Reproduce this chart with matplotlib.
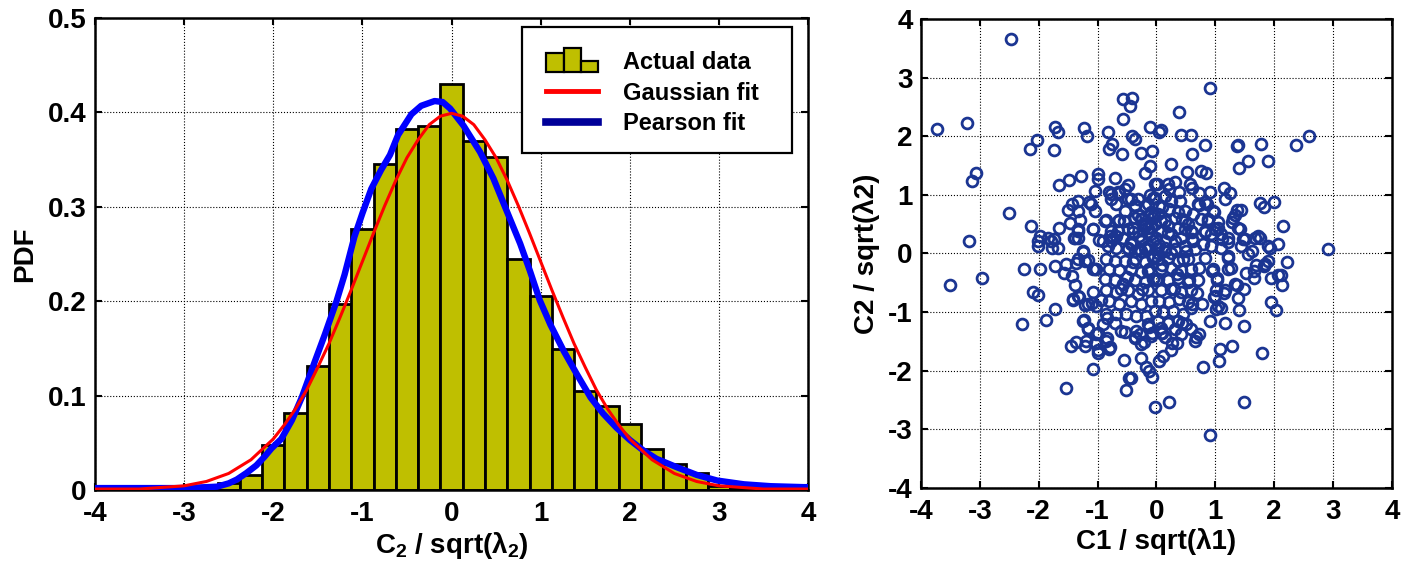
import matplotlib
matplotlib.use('Agg')
import matplotlib.pyplot as plt
from matplotlib.patches import Rectangle
from matplotlib.legend_handler import HandlerBase
from matplotlib.lines import Line2D

# ---------------- data ----------------
bin_centers = [-3.0, -2.75, -2.5, -2.25, -2.0, -1.75, -1.5, -1.25, -1.0, -0.75, -0.5, -0.25,
               0.0, 0.25, 0.5, 0.75, 1.0, 1.25, 1.5, 1.75, 2.0, 2.25, 2.5, 2.75, 3.0, 3.25, 3.5, 3.75]
bin_heights = [0.004, 0.004, 0.007, 0.016, 0.048, 0.082, 0.131, 0.197, 0.276, 0.345, 0.382, 0.386,
               0.430, 0.370, 0.353, 0.245, 0.205, 0.149, 0.105, 0.089, 0.070, 0.043, 0.028, 0.018,
               0.004, 0.002, 0.001, 0.001]

gauss_x = [-4.0, -3.5, -3.0, -2.75, -2.5, -2.25, -2.0, -1.875, -1.75, -1.625, -1.5, -1.375, -1.25,
           -1.125, -1.0, -0.875, -0.75, -0.625, -0.5, -0.375, -0.25, -0.125, 0.0, 0.125, 0.25,
           0.375, 0.5, 0.625, 0.75, 0.875, 1.0, 1.125, 1.25, 1.375, 1.5, 1.625, 1.75, 1.875,
           2.0, 2.25, 2.5, 2.75, 3.0, 3.5, 4.0]
gauss_y = [0.001, 0.001, 0.0044, 0.009, 0.0175, 0.032, 0.054, 0.069, 0.086, 0.106, 0.130, 0.155,
           0.183, 0.212, 0.242, 0.272, 0.301, 0.328, 0.352, 0.371, 0.387, 0.396, 0.399, 0.396,
           0.387, 0.371, 0.352, 0.328, 0.301, 0.272, 0.242, 0.212, 0.183, 0.155, 0.130, 0.106,
           0.086, 0.069, 0.054, 0.032, 0.0175, 0.009, 0.0044, 0.001, 0.001]

pearson_x = [-4.0, -3.5, -3.0, -2.75, -2.63, -2.5, -2.41, -2.3, -2.19, -2.1, -2.02, -1.91, -1.79,
             -1.68, -1.53, -1.42, -1.29, -1.2, -1.09, -1.0, -0.9, -0.79, -0.69, -0.6, -0.45, -0.34,
             -0.19, -0.1, -0.015, 0.134, 0.32, 0.47, 0.6, 0.77, 0.88, 0.99, 1.11, 1.26, 1.41, 1.56,
             1.7, 1.85, 2.0, 2.15, 2.3, 2.53, 2.75, 2.98, 3.28, 3.58, 3.95, 4.0]
pearson_y = [0.002, 0.002, 0.002, 0.003, 0.0035, 0.007, 0.011, 0.018, 0.026, 0.035, 0.044, 0.054,
             0.074, 0.098, 0.137, 0.165, 0.2, 0.228, 0.268, 0.293, 0.319, 0.339, 0.355, 0.376,
             0.398, 0.407, 0.412, 0.411, 0.404, 0.386, 0.358, 0.33, 0.3, 0.261, 0.232, 0.201,
             0.175, 0.147, 0.122, 0.098, 0.081, 0.066, 0.053, 0.042, 0.033, 0.024, 0.016, 0.01,
             0.006, 0.004, 0.003, 0.003]

legend_labels = ['Actual data', 'Gaussian fit', 'Pearson fit']

scatter_pts = [
    # upper-left region
    (-2.47, 3.66), (-3.72, 2.13), (-3.22, 2.23), (-3.06, 1.38), (-3.14, 1.23), (-2.51, 0.69),
    (-3.19, 0.22), (-2.13, 0.47), (-1.73, 2.16), (-1.67, 2.07), (-2.03, 1.93), (-2.15, 1.79),
    (-1.74, 1.76), (-1.23, 2.14), (-1.18, 2.0), (-0.82, 2.07), (-0.76, 1.87), (-0.81, 1.79),
    (-0.59, 1.69), (-0.57, 2.29), (-0.56, 2.63), (-0.41, 2.66), (-0.45, 2.51), (-0.42, 2.0),
    (-0.36, 1.95), (-0.11, 2.16), (-0.26, 1.71), (-0.08, 1.74), (-0.11, 1.49), (-0.19, 1.37),
    (-0.02, 1.18), (-1.28, 1.32), (-1.49, 1.26), (-1.65, 1.16), (-0.99, 1.35), (-0.99, 1.27),
    (-0.70, 1.29), (-0.48, 1.16), (-0.53, 1.10), (-1.05, 1.06), (-0.80, 1.05), (-0.65, 1.05),
    (-0.77, 0.93), (-0.69, 0.85), (-0.48, 0.93), (-0.32, 0.93), (-0.11, 1.0), (-1.44, 0.85),
    (-1.34, 0.89), (-1.50, 0.75), (-1.33, 0.73), (-1.12, 0.85), (-1.05, 0.72), (-0.86, 0.57),
    (-0.63, 0.57), (-0.36, 0.82), (-0.31, 0.65), (-0.25, 0.59), (-0.05, 0.65), (-1.47, 0.52),
    (-1.30, 0.57), (-1.33, 0.42), (-1.66, 0.43), (-1.07, 0.41), (-1.97, 0.30), (-2.02, 0.22),
    (-1.84, 0.26), (-1.74, 0.25), (-1.78, 0.09), (-1.67, 0.10), (-1.40, 0.26), (-1.33, 0.26),
    (-1.24, 0.03), (-0.97, 0.23), (-0.79, 0.30), (-0.73, 0.27), (-0.68, 0.30), (-0.83, 0.13),
    (-0.48, 0.42), (-0.40, 0.36), (-0.19, 0.47), (-0.14, 0.36), (-0.43, 0.19), (-0.25, 0.25),
    (-0.48, 0.07), (-0.14, 0.07), (-0.30, 0.07),
    # upper-right region
    (0.91, 2.83), (0.39, 2.42), (0.07, 2.10), (0.04, 2.07), (0.42, 2.02), (0.58, 2.02),
    (0.83, 1.85), (0.60, 1.70), (0.24, 1.53), (0.52, 1.39), (0.76, 1.40), (0.85, 1.37),
    (1.36, 1.83), (1.39, 1.85), (1.78, 1.87), (1.55, 1.58), (1.41, 1.45), (1.90, 1.58),
    (2.37, 1.85), (2.59, 2.0), (0.01, 1.19), (0.32, 1.22), (0.21, 1.10), (0.38, 1.05),
    (0.57, 1.19), (0.60, 1.11), (0.72, 1.03), (0.91, 1.05), (1.15, 1.12), (1.25, 1.03),
    (1.17, 0.93), (0.72, 0.82), (0.86, 0.85), (0.97, 0.71), (1.36, 0.75), (1.44, 0.75),
    (1.34, 0.65), (1.28, 0.53), (1.76, 0.86), (1.82, 0.79), (2.0, 0.87), (2.15, 0.47),
    (1.42, 0.42), (1.68, 0.27), (1.76, 0.27), (1.51, 0.25), (1.93, 0.10), (2.06, 0.16),
    (2.92, 0.07), (1.62, 0.05), (0.76, 0.59), (0.88, 0.59), (1.05, 0.53), (1.0, 0.42),
    (1.11, 0.25), (1.22, 0.20), (0.83, 0.36), (0.60, 0.36), (0.43, 0.59), (0.49, 0.42),
    # lower-left region
    (-3.50, -0.53), (-2.96, -0.42), (-2.25, -0.26), (-1.97, -0.26), (-1.73, -0.21), (-1.53, -0.18),
    (-1.57, -0.34), (-1.36, -0.17), (-1.33, -0.10), (-1.43, -0.38), (-1.39, -0.54), (-2.10, -0.66),
    (-2.02, -0.70), (-1.73, -0.94), (-1.87, -1.13), (-2.28, -1.20), (-1.41, -0.78), (-1.33, -0.72),
    (-1.17, -0.11), (-1.07, -0.26), (-1.02, -0.26), (-1.07, -0.66), (-1.22, -0.88), (-1.10, -0.84),
    (-1.23, -1.13), (-1.16, -1.27), (-0.99, -1.35), (-1.02, -1.53), (-1.00, -1.64), (-1.20, -1.50),
    (-1.37, -1.51), (-1.45, -1.57), (-0.84, -1.44), (-0.79, -1.59), (-0.90, -1.21), (-0.84, -1.10),
    (-1.07, -1.97), (-1.54, -2.29), (-0.55, -1.81), (-0.46, -2.13), (-0.52, -2.33), (-0.27, -1.78),
    (-0.18, -1.94), (-0.12, -2.01), (-0.08, -2.10), (-0.03, -2.62), (-0.60, -1.33), (-0.53, -1.34),
    (-0.36, -1.44), (-0.28, -1.38), (-0.22, -1.51), (-0.14, -1.21), (-0.08, -1.35),
    # lower-right region
    (0.91, -3.10), (1.48, -2.54), (0.21, -2.54), (0.79, -1.94), (1.07, -1.84), (1.08, -1.63),
    (1.28, -1.57), (1.79, -1.70), (0.04, -1.84), (0.11, -1.75), (0.24, -1.64), (0.27, -1.53),
    (0.35, -1.52), (0.65, -1.50), (0.67, -1.42), (0.72, -1.37), (0.59, -1.29), (0.91, -1.15),
    (1.17, -1.19), (1.48, -1.23), (1.40, -0.97), (1.95, -0.83), (2.03, -0.97), (1.39, -0.76),
    (1.48, -0.61), (1.37, -0.54), (2.14, -0.53), (2.06, -0.37), (2.12, -0.37), (2.22, -0.15),
    (1.90, -0.13), (1.83, -0.21), (1.69, -0.20), (1.66, -0.41), (1.65, -0.30), (1.52, -0.33),
    (1.27, -0.24), (1.22, -0.04), (1.55, -0.01), (0.82, -0.07), (0.72, -0.24), (0.95, -0.30),
    (1.03, -0.41), (1.14, -0.67), (0.99, -0.73), (1.04, -0.90), (1.10, -0.93), (0.77, -0.87),
    (0.58, -0.93), (0.69, -0.67), (0.43, -1.18), (0.10, -1.35), (0.07, -1.27),
    # dense centre, upper-left
    (-0.88, 0.56), (-0.66, 0.56), (-0.26, 0.59), (-0.15, 0.44), (-0.40, 0.44), (-0.77, 0.39),
    (-0.57, 0.27), (-1.08, 0.41), (-1.34, 0.39), (-1.39, 0.27), (-1.79, 0.22), (-2.02, 0.13),
    (-1.25, 0.04), (-0.77, 0.21), (-0.91, 0.21), (-0.69, 0.10), (-0.43, 0.16), (-0.26, 0.21),
    (-0.15, 0.13), (-0.37, 0.04), (-0.54, 0.73), (-0.37, 0.61), (-0.20, 0.50), (-0.06, 0.61),
    (-0.49, 0.10), (-0.26, 0.04), (-0.06, 0.21), (-0.66, 0.39), (-0.09, 0.33), (-0.77, 1.01),
    (-0.63, 1.04), (-0.43, 0.93), (-0.37, 0.81), (-0.20, 0.81), (-0.09, 0.70), (-0.06, 0.95),
    (-1.14, 0.87),
    # dense centre, upper-right
    (0.19, 1.18), (-0.03, 0.95), (0.14, 0.98), (0.25, 0.90), (0.05, 0.81), (0.22, 0.76),
    (0.36, 0.70), (0.02, 0.67), (0.70, 0.84), (0.82, 0.87), (0.96, 0.73), (1.30, 0.61),
    (1.38, 0.44), (1.89, 0.13), (1.72, 0.30), (1.47, 0.24), (1.21, 0.27), (1.10, 0.33),
    (0.87, 0.56), (1.04, 0.44), (0.93, 0.33), (0.48, 0.56), (0.36, 0.44), (0.59, 0.39),
    (0.82, 0.39), (0.08, 0.56), (0.19, 0.47), (0.08, 0.39), (0.25, 0.33), (0.42, 0.27),
    (0.62, 0.21), (0.79, 0.16), (0.93, 0.13), (1.10, 0.10), (1.44, 0.13), (0.14, 0.10),
    (0.31, 0.07), (0.50, 0.04), (-0.01, 0.27), (0.14, 0.21), (-0.03, 0.50), (0.31, 0.61),
    (0.48, 0.73), (0.62, 0.67), (0.53, 0.50), (0.31, 0.21), (0.48, 0.13), (0.65, 0.07),
    (0.14, 0.04), (0.02, 0.01),
    # dense centre, lower-left
    (-1.22, -0.12), (-1.05, -0.26), (-1.42, -0.80), (-1.31, -0.75), (-1.17, -0.86), (-0.94, -0.80),
    (-1.02, -0.89), (-1.25, -1.15), (-1.17, -1.29), (-1.02, -1.38), (-0.85, -1.03), (-1.22, -1.57),
    (-1.00, -1.69), (-0.80, -1.63), (-0.85, -1.49), (-1.05, -1.52), (-0.43, -2.12), (-0.71, -1.18),
    (-0.37, -1.43), (-0.26, -1.55), (-0.09, -1.40), (-0.34, -1.32), (-0.12, -1.26),
    (-0.85, -0.09), (-0.71, -0.12), (-0.54, -0.12), (-0.37, -0.09), (-0.20, -0.15), (-0.06, -0.07),
    (-0.80, -0.26), (-0.63, -0.29), (-0.43, -0.26), (-0.26, -0.32), (-0.12, -0.26), (-0.88, -0.44),
    (-0.71, -0.46), (-0.57, -0.52), (-0.37, -0.46), (-0.20, -0.49), (-0.06, -0.44), (-0.85, -0.63),
    (-0.69, -0.66), (-0.49, -0.63), (-0.32, -0.69), (-0.15, -0.63), (-0.80, -0.81), (-0.63, -0.86),
    (-0.43, -0.81), (-0.26, -0.86), (-0.09, -0.81), (-0.69, -1.03), (-0.51, -1.03), (-0.34, -1.06),
    (-0.17, -1.06), (-0.03, -0.98),
    # dense centre, lower-right
    (1.21, -0.07), (1.84, -0.18), (1.95, -0.41), (0.96, -0.26), (1.21, -0.26), (1.02, -0.46),
    (1.16, -0.63), (1.33, -0.52), (0.98, -0.75), (1.01, -0.63), (0.61, -0.86), (1.01, -0.95),
    (0.02, -0.09), (0.19, -0.07), (0.36, -0.12), (0.53, -0.09), (0.08, -0.26), (0.25, -0.24),
    (0.42, -0.29), (0.59, -0.26), (0.02, -0.44), (0.19, -0.46), (0.36, -0.41), (0.53, -0.49),
    (0.70, -0.46), (0.08, -0.63), (0.25, -0.61), (0.42, -0.66), (0.59, -0.63), (0.05, -0.81),
    (0.22, -0.83), (0.39, -0.78), (0.53, -0.83), (0.11, -1.0), (0.28, -0.98), (0.45, -1.03),
    (0.02, -1.15), (0.19, -1.18), (0.36, -1.15), (0.50, -1.20), (0.08, -1.35), (0.14, -1.43),
    (0.31, -1.29), (0.42, -1.38),
    # core of the cloud
    (-0.05, -0.05), (0.05, 0.15), (0.10, -0.20), (-0.15, -0.30), (0.20, 0.35), (-0.30, 0.30),
    (0.35, -0.35), (-0.40, -0.15), (0.25, 0.0), (-0.20, 0.10), (0.0, -0.45), (0.15, 0.55),
    (-0.10, 0.45), (0.45, -0.10), (-0.50, -0.40), (0.30, -0.60), (-0.25, -0.60), (0.10, 0.80),
    (-0.15, 0.85), (0.40, 0.90), (0.55, -0.45), (-0.60, -0.60), (0.60, 0.25), (-0.55, 0.55),
]
scatter_x = [p[0] for p in scatter_pts]
scatter_y = [p[1] for p in scatter_pts]

ticks = [-4, -3, -2, -1, 0, 1, 2, 3, 4]
pdf_ticks = [0, 0.1, 0.2, 0.3, 0.4, 0.5]
pdf_ticklabels = ['0', '0.1', '0.2', '0.3', '0.4', '0.5']

# ---------------- style ----------------
plt.rcParams['font.family'] = ['Liberation Sans', 'DejaVu Sans']
plt.rcParams['font.weight'] = 'bold'
plt.rcParams['axes.unicode_minus'] = False
plt.rcParams['mathtext.fontset'] = 'custom'
plt.rcParams['mathtext.rm'] = 'Liberation Sans:bold'
plt.rcParams['mathtext.bf'] = 'Liberation Sans:bold'
plt.rcParams['mathtext.it'] = 'Liberation Sans:bold'
plt.rcParams['mathtext.default'] = 'rm'

BAR = '#BFBF00'
TICK_FS = 20
LABEL_FS = 20

fig = plt.figure(figsize=(14.11, 5.71), dpi=100)
ax1 = fig.add_axes([0.0673, 0.1419, 0.5054, 0.8266])
ax2 = fig.add_axes([0.6527, 0.1454, 0.3338, 0.8213])


def style_axes(ax):
    ax.grid(True, linestyle=':', color='black', linewidth=0.8)
    ax.set_axisbelow(True)
    ax.tick_params(direction='in', top=True, right=True, length=5, width=1.5,
                   labelsize=TICK_FS)
    ax.tick_params(axis='x', pad=8)
    ax.tick_params(axis='y', pad=6)
    for s in ax.spines.values():
        s.set_linewidth(1.8)
    for lab in ax.get_xticklabels() + ax.get_yticklabels():
        lab.set_fontweight('bold')


# ---------------- left: histogram ----------------
ax1.bar(bin_centers, bin_heights, width=0.25, color=BAR, edgecolor='black',
        linewidth=2, zorder=2)
ax1.plot(pearson_x, pearson_y, color='#0000FF', lw=4.6, zorder=3, solid_capstyle='round')
ax1.plot(gauss_x, gauss_y, color='#FF0000', lw=2.2, zorder=4)
ax1.set_xlim(-4, 4)
ax1.set_ylim(0, 0.5)
ax1.set_xticks(ticks)
ax1.set_yticks(pdf_ticks)
ax1.set_yticklabels(pdf_ticklabels)
style_axes(ax1)
ax1.set_xlabel(r'C$_2$ / sqrt($\lambda_2$)', fontsize=LABEL_FS, fontweight='bold', labelpad=2)
ax1.set_ylabel('PDF', fontsize=LABEL_FS, fontweight='bold', labelpad=7)


class HistHandler(HandlerBase):
    def create_artists(self, legend, orig_handle, xdescent, ydescent, width, height,
                       fontsize, trans):
        w = width / 3.0
        rel = [0.85, 1.1, 0.5]
        arts = []
        for i, r in enumerate(rel):
            rect = Rectangle((-xdescent + i * w, -ydescent - 0.15 * height), w,
                             height * r * 1.3, facecolor=BAR, edgecolor='black',
                             linewidth=1.6, transform=trans)
            arts.append(rect)
        return arts


# legend box (drawn as a framed white panel, MATLAB-like extra right margin)
ax1.add_patch(Rectangle((0.599, 0.714), 0.3786, 0.267, transform=ax1.transAxes,
                        facecolor='white', edgecolor='black', linewidth=1.6,
                        zorder=6, clip_on=False))
hist_handle = Rectangle((0, 0), 1, 1)
g_handle = Line2D([], [], color='#FF0000', lw=3.5)
p_handle = Line2D([], [], color='#000099', lw=5.5)
leg = ax1.legend([hist_handle, g_handle, p_handle], legend_labels,
                 handler_map={Rectangle: HistHandler()},
                 loc='upper left', bbox_to_anchor=(0.603, 0.975),
                 prop={'weight': 'bold', 'size': 17},
                 frameon=False,
                 handlelength=2.2, handletextpad=1.05, labelspacing=0.32, borderpad=0.9,
                 borderaxespad=0)
leg.set_zorder(7)

# ---------------- right: scatter ----------------
ax2.plot(scatter_x, scatter_y, 'o', mfc='none', mec='#1B3592', ms=7.8, mew=2.0, zorder=3)
ax2.set_xlim(-4, 4)
ax2.set_ylim(-4, 4)
ax2.set_xticks(ticks)
ax2.set_yticks(ticks)
style_axes(ax2)
ax2.set_xlabel('C1 / sqrt(\u03bb1)', fontsize=LABEL_FS, fontweight='bold', labelpad=2)
ax2.set_ylabel('C2 / sqrt(\u03bb2)', fontsize=LABEL_FS, fontweight='bold', labelpad=6)

fig.savefig('out.png', dpi=100)
